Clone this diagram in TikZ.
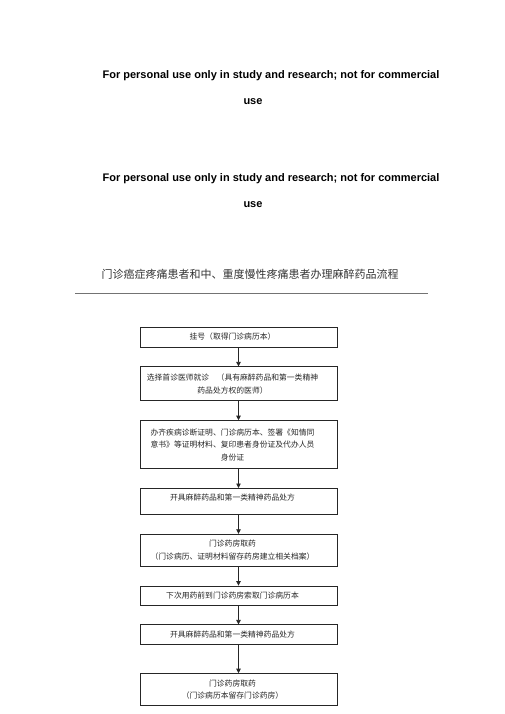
\documentclass[tikz,border=0pt]{standalone}
\usepackage{fontspec}
\setmainfont{Liberation Sans}
\newfontfamily\cjk{Noto Sans CJK SC}
\usetikzlibrary{arrows.meta, positioning}

\begin{document}
\begin{tikzpicture}[
    x=1pt, y=1pt,
    node distance=19pt,
    notice/.style={font=\fontsize{11}{13}\selectfont\bfseries, inner sep=0pt},
    heading/.style={font=\cjk\fontsize{11}{13}\selectfont, text=black!80, inner sep=0pt},
    flowbox/.style={rectangle, draw=black!85, line width=0.8pt, minimum width=197pt,
        text width=185pt, inner sep=0pt,
        execute at begin node={\centering\advance\rightskip by 12pt},
        font=\cjk\fontsize{7.8}{12.5}\selectfont, text=black!85},
    arr/.style={-{Triangle[length=4.5pt, width=4.5pt]}, line width=0.8pt, black!85}
]
    \useasboundingbox (0,0) rectangle (505,-714);

    % notices
    \node[notice] (n1) at (271,-76) {For personal use only in study and research; not for commercial};
    \node[notice] (u1) at (253,-102) {use};
    \node[notice] (n2) at (271,-179) {For personal use only in study and research; not for commercial};
    \node[notice] (u2) at (253,-205) {use};

    % title
    \node[heading] (title) at (250,-274) {门诊癌症疼痛患者和中、重度慢性疼痛患者办理麻醉药品流程};
    \draw[black!55, line width=0.8pt] (75,-293) -- (428,-293);

    % flow
    \node[flowbox, minimum height=20pt] (reg) at (238.5,-337) {挂号（取得门诊病历本）};
    \node[flowbox, minimum height=34pt, below=of reg] (doc)
        {选择首诊医师就诊\hspace{7.5pt}（具有麻醉药品和第一类精神\\药品处方权的医师）};
    \node[flowbox, minimum height=48pt, below=of doc] (papers)
        {办齐疾病诊断证明、门诊病历本、签署《知情同\\意书》等证明材料、复印患者身份证及代办人员\\身份证};
    \node[flowbox, minimum height=26pt, text depth=8pt, below=of papers] (rx1)
        {开具麻醉药品和第一类精神药品处方};
    \node[flowbox, minimum height=32pt, below=of rx1] (take1)
        {门诊药房取药\\（门诊病历、证明材料留存药房建立相关档案）};
    \node[flowbox, minimum height=19pt, below=of take1] (next)
        {下次用药前到门诊药房索取门诊病历本};
    \node[flowbox, minimum height=20pt, below=of next] (rx2)
        {开具麻醉药品和第一类精神药品处方};
    \node[flowbox, minimum height=32pt, below=28pt of rx2] (take2)
        {门诊药房取药\\（门诊病历本留存门诊药房）};

    \foreach \a/\b in {reg/doc, doc/papers, papers/rx1, rx1/take1, take1/next, next/rx2, rx2/take2}
        \draw[arr] (\a) -- (\b);
\end{tikzpicture}
\end{document}
